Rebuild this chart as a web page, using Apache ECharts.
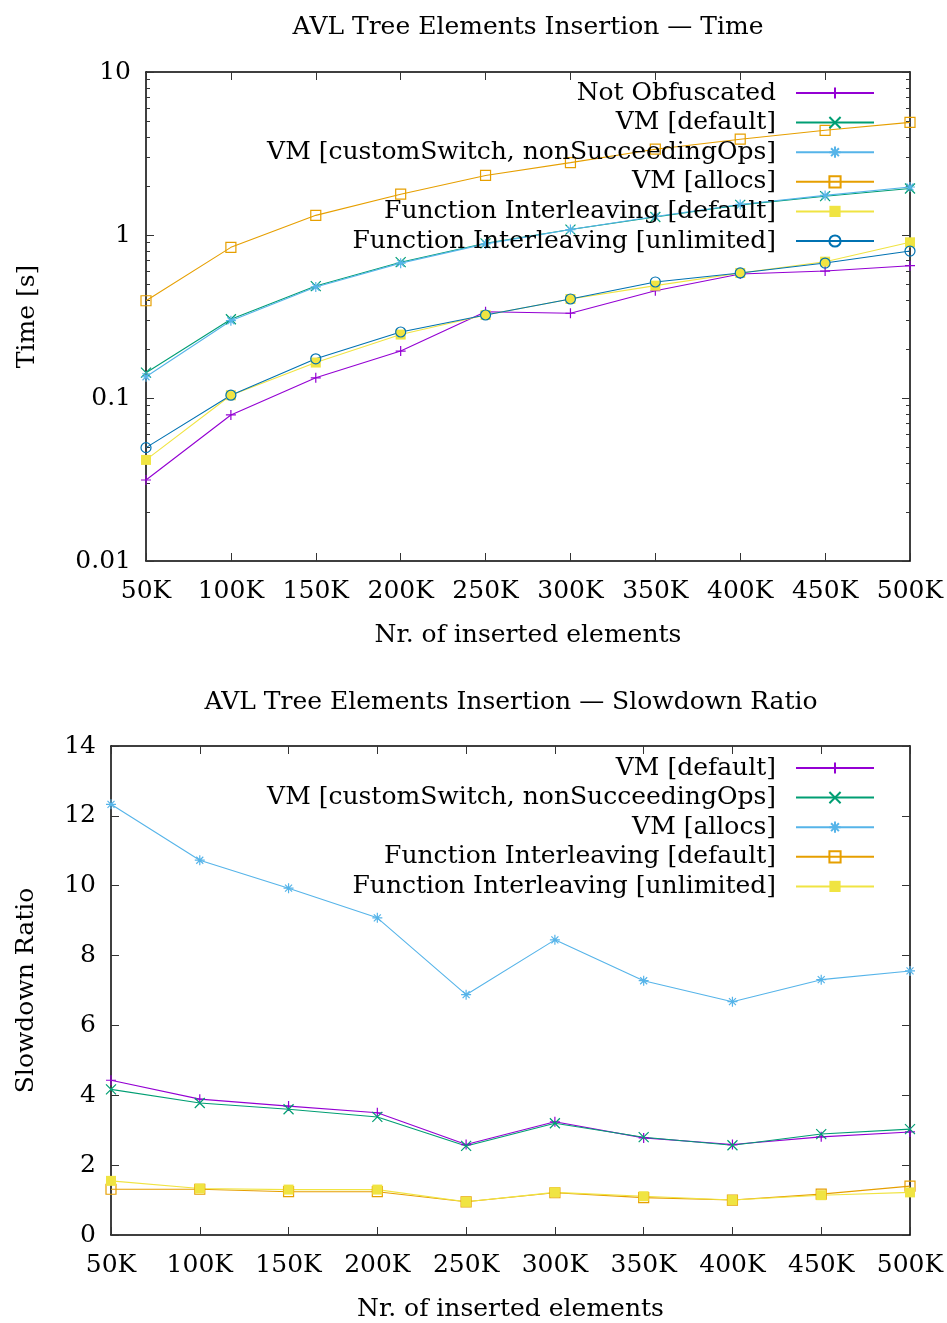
<!DOCTYPE html>
<html>
<head>
<meta charset="utf-8">
<script src="https://cdn.jsdelivr.net/npm/echarts@6/dist/echarts.min.js"></script>
<style>
  html, body { margin: 0; padding: 0; background: #fff; }
  #chart { width: 947px; height: 1323px; }
</style>
</head>
<body>
<div id="chart"></div>
<script>
// x categories (shared by both plots)
const categories = ["50K", "100K", "150K", "200K", "250K", "300K", "350K", "400K", "450K", "500K"];

// top plot: time [s]
const timeNotObfuscated = [0.0314, 0.0787, 0.133, 0.194, 0.338, 0.331, 0.455, 0.577, 0.601, 0.648];
const timeVmDefault = [0.143, 0.304, 0.486, 0.681, 0.889, 1.08, 1.29, 1.53, 1.73, 1.93];
const timeVmCustomSwitch = [0.135, 0.298, 0.480, 0.672, 0.882, 1.08, 1.30, 1.54, 1.75, 1.97];
const timeVmAllocs = [0.395, 0.84, 1.32, 1.78, 2.32, 2.78, 3.36, 3.87, 4.39, 4.91];
const timeFiDefault = [0.0417, 0.104, 0.165, 0.245, 0.323, 0.405, 0.489, 0.585, 0.686, 0.902];
const timeFiUnlimited = [0.0496, 0.104, 0.174, 0.254, 0.323, 0.405, 0.515, 0.585, 0.673, 0.797];

// bottom plot: slowdown ratio
const ratioVmDefault = [4.43, 3.89, 3.69, 3.50, 2.59, 3.24, 2.78, 2.59, 2.81, 2.95];
const ratioVmCustomSwitch = [4.17, 3.78, 3.60, 3.38, 2.55, 3.20, 2.80, 2.57, 2.89, 3.03];
const ratioVmAllocs = [12.33, 10.73, 9.93, 9.08, 6.88, 8.45, 7.28, 6.68, 7.31, 7.56];
const ratioFiDefault = [1.31, 1.31, 1.24, 1.24, 0.95, 1.21, 1.07, 1.00, 1.17, 1.40];
const ratioFiUnlimited = [1.55, 1.33, 1.30, 1.30, 0.95, 1.22, 1.11, 1.00, 1.14, 1.22];

// log axis minor ticks (top plot)
const minorTicksTime = [0.02, 0.03, 0.04, 0.05, 0.06, 0.07, 0.08, 0.09,
  0.2, 0.3, 0.4, 0.5, 0.6, 0.7, 0.8, 0.9, 2, 3, 4, 5, 6, 7, 8, 9];

const FONT = "DejaVu Serif";
const C = {
  purple: "#9400d3", green: "#009e73", sky: "#56b4e9",
  orange: "#e69f00", yellow: "#f0e442", blue: "#0072b2",
};

const SYM = {
  plus: "path://M5 0L5 10M0 5L10 5",
  cross: "path://M0 0L10 10M10 0L0 10",
  star: "path://M5 0L5 10M0 5L10 5M1.5 1.5L8.5 8.5M8.5 1.5L1.5 8.5",
  box: "rect",
  boxFill: "rect",
  circle: "circle",
};

function mkSeries(name, data, color, sym, xi, yi) {
  const hollow = sym === "box" || sym === "circle";
  const stroked = hollow || sym === "plus" || sym === "cross" || sym === "star";
  return {
    type: "line",
    name,
    data,
    xAxisIndex: xi,
    yAxisIndex: yi,
    symbol: SYM[sym],
    symbolSize: 10,
    showAllSymbol: true,
    animation: false,
    lineStyle: { color, width: 1.1 },
    itemStyle: stroked
      ? { color: hollow ? "rgba(0,0,0,0)" : color, borderColor: color, borderWidth: 1.2 }
      : { color },
  };
}

const topSeries = [
  mkSeries("Not Obfuscated", timeNotObfuscated, C.purple, "plus", 0, 0),
  mkSeries("VM [default]", timeVmDefault, C.green, "cross", 0, 0),
  mkSeries("VM [customSwitch, nonSucceedingOps]", timeVmCustomSwitch, C.sky, "star", 0, 0),
  mkSeries("VM [allocs]", timeVmAllocs, C.orange, "box", 0, 0),
  mkSeries("Function Interleaving [default]", timeFiDefault, C.yellow, "boxFill", 0, 0),
  mkSeries("Function Interleaving [unlimited]", timeFiUnlimited, C.blue, "circle", 0, 0),
];
const bottomSeries = [
  mkSeries("VM [default] ", ratioVmDefault, C.purple, "plus", 2, 4),
  mkSeries("VM [customSwitch, nonSucceedingOps] ", ratioVmCustomSwitch, C.green, "cross", 2, 4),
  mkSeries("VM [allocs] ", ratioVmAllocs, C.sky, "star", 2, 4),
  mkSeries("Function Interleaving [default] ", ratioFiDefault, C.orange, "box", 2, 4),
  mkSeries("Function Interleaving [unlimited] ", ratioFiUnlimited, C.yellow, "boxFill", 2, 4),
];

function mkLegends(series, firstY) {
  return series.map((s, i) => ({
    data: [s.name],
    right: 72,
    top: firstY + i * 29.6 - 14,
    orient: "horizontal",
    align: "right",
    padding: 0,
    itemWidth: 78,
    itemHeight: 14,
    selectedMode: false,
    formatter: (n) => n.trim(),
    textStyle: { fontFamily: FONT, fontSize: 25, color: "#000", lineHeight: 28, padding: [0, 15, 0, 0] },
  }));
}

const lineStyleAxis = { color: "#000", width: 1.5 };
const tickStyle = { color: "#333", width: 1 };
const labelStyle = { fontFamily: FONT, fontSize: 25, color: "#000" };
const nameStyle = { fontFamily: FONT, fontSize: 25, color: "#000" };
const majorTick = { show: true, inside: true, length: 8, lineStyle: tickStyle };
const axisLine = { show: true, onZero: false, lineStyle: lineStyleAxis };

function xAxes(grid, gap) {
  return [
    {
      type: "category", gridIndex: grid, data: categories, boundaryGap: false, position: "bottom",
      axisLine, axisTick: { ...majorTick, interval: 0 },
      axisLabel: { ...labelStyle, margin: 18, interval: 0 },
      name: "Nr. of inserted elements", nameLocation: "middle", nameGap: gap, nameTextStyle: nameStyle,
    },
    {
      type: "category", gridIndex: grid, data: categories, boundaryGap: false, position: "top",
      axisLine, axisTick: { ...majorTick, interval: 0 },
      axisLabel: { show: false },
    },
  ];
}

function logAxis(pos, withLabels) {
  const ax = {
    type: "log", gridIndex: 0, logBase: 10, min: 0.01, max: 10, position: pos,
    axisLine, axisTick: majorTick,
    axisLabel: withLabels ? { ...labelStyle, margin: 15 } : { show: false },
    splitLine: { show: false },
  };
  if (withLabels) {
    Object.assign(ax, { name: "Time [s]", nameLocation: "middle", nameGap: 106, nameTextStyle: nameStyle });
  }
  return ax;
}

function logMinor(pos) {
  return {
    type: "log", gridIndex: 0, logBase: 10, min: 0.01, max: 10, position: pos,
    axisLine: { show: false },
    axisTick: { show: true, inside: true, length: 4, lineStyle: tickStyle, customValues: minorTicksTime },
    axisLabel: { show: false }, splitLine: { show: false },
  };
}

const option = {
  backgroundColor: "#fff",
  animation: false,
  graphic: [
    { type: "text", x: 528, y: 27, style: { text: "AVL Tree Elements Insertion — Time", font: `25px "${FONT}"`, fill: "#000", align: "center", verticalAlign: "middle" } },
    { type: "text", x: 511, y: 702, style: { text: "AVL Tree Elements Insertion — Slowdown Ratio", font: `25px "${FONT}"`, fill: "#000", align: "center", verticalAlign: "middle" } },
  ],
  grid: [
    { left: 146, right: 37, top: 72, height: 489 },
    { left: 111, right: 37, top: 746, height: 490 },
  ],
  xAxis: [...xAxes(0, 62), ...xAxes(1, 62)],
  yAxis: [
    logAxis("left", true),
    logMinor("left"),
    logAxis("right", false),
    logMinor("right"),
    {
      type: "value", gridIndex: 1, min: 0, max: 14, interval: 2, position: "left",
      axisLine, axisTick: majorTick,
      axisLabel: { ...labelStyle, margin: 15 },
      splitLine: { show: false },
      name: "Slowdown Ratio", nameLocation: "middle", nameGap: 72, nameTextStyle: nameStyle,
    },
    {
      type: "value", gridIndex: 1, min: 0, max: 14, interval: 2, position: "right",
      axisLine, axisTick: majorTick,
      axisLabel: { show: false }, splitLine: { show: false },
    },
  ],
  legend: [...mkLegends(topSeries, 93), ...mkLegends(bottomSeries, 768)],
  series: [...topSeries, ...bottomSeries],
};

const chart = echarts.init(document.getElementById("chart"));
chart.setOption(option);
window.addEventListener("resize", () => chart.resize());
</script>
</body>
</html>
